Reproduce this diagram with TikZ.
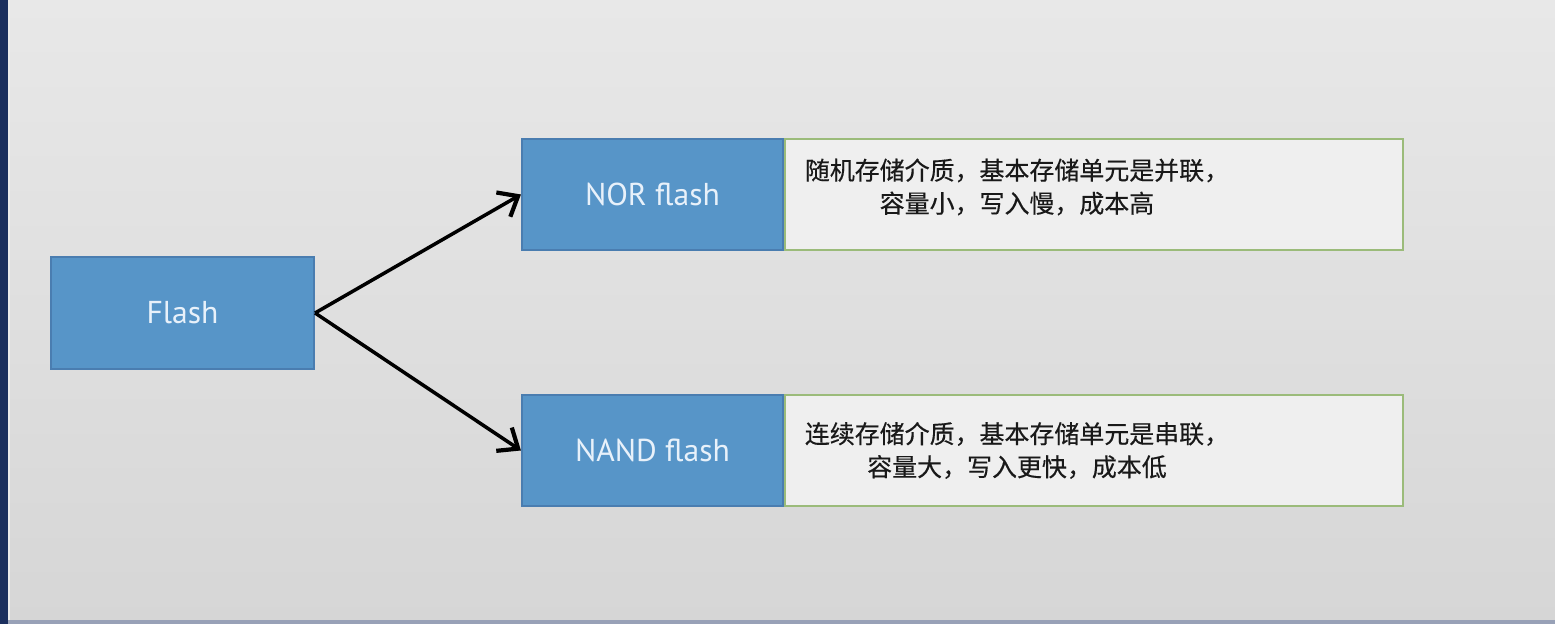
\documentclass[tikz,border=0pt]{standalone}
\usepackage{fontspec}
\setmainfont{PT Sans}
\newfontfamily\cjk[FakeBold=0.4]{Noto Sans CJK SC}
\definecolor{flashblue}{HTML}{5795C8}
\definecolor{flashedge}{HTML}{4A7DB0}
\definecolor{flashtext}{HTML}{E8F1FA}
\definecolor{descfill}{HTML}{EFEFEF}
\definecolor{descedge}{HTML}{9BBB7A}
\definecolor{navy}{HTML}{1B2F5E}
\usetikzlibrary{arrows.meta}

\begin{document}
\begin{tikzpicture}[
	typebox/.style={fill=flashblue, draw=flashedge, line width=0.6pt, text=flashtext, font=\fontsize{9}{11}\selectfont, minimum width=2.61cm, minimum height=1.11cm, inner sep=0pt},
	descbox/.style={fill=descfill, draw=descedge, line width=0.6pt, minimum width=6.18cm, minimum height=1.11cm, anchor=west, inner sep=0pt},
	desctext/.style={font=\cjk\fontsize{7.1}{9.4}\selectfont, text=black!90, align=center, inner sep=0pt},
	branch/.style={line width=1pt, -{Straight Barb[length=1.7mm, width=2.8mm, line width=1.2pt]}},
]

\begin{scope}[]
%%% BACKGROUND
\fill [top color={rgb,255:red,232;green,232;blue,232}, bottom color={rgb,255:red,214;green,214;blue,214}] (0,0) rectangle (15.55,6.24);
\fill [navy] (0,0) rectangle (0.08,6.24);
\fill [black!8] (0.08,0) rectangle (0.1,6.24);
\fill [navy!45] (0.08,0) rectangle (15.55,0.04);
\end{scope}

\begin{scope}[]
%%% FLASH
\node [typebox, minimum width=2.63cm, minimum height=1.12cm] (flash) at (1.825,3.11) {Flash};
\end{scope}

\begin{scope}[]
%%% NOR FLASH
\node [typebox] (nor) at (6.525,4.295) {NOR flash};
\node [descbox] (nordesc) at (nor.east) {};
\node [desctext] (nortext) at (10.17,4.37) {随机存储介质，基本存储单元是并联，\\容量小，写入慢，成本高};
\end{scope}

\begin{scope}[]
%%% NAND FLASH
\node [typebox] (nand) at (6.525,1.735) {NAND flash};
\node [descbox] (nanddesc) at (nand.east) {};
\node [desctext] (nandtext) at (10.17,1.735) {连续存储介质，基本存储单元是串联，\\容量大，写入更快，成本低};
\end{scope}

\draw [branch] (flash.east) -- (nor.west);
\draw [branch] (flash.east) -- (nand.west);

\end{tikzpicture}
\end{document}
